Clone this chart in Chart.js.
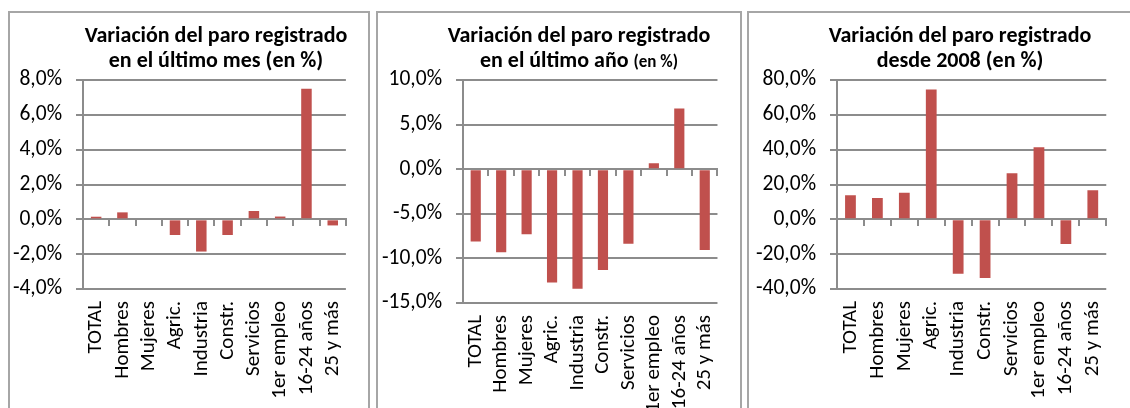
<!DOCTYPE html>
<html>
<head>
<meta charset="utf-8">
<script src="https://cdn.jsdelivr.net/npm/chart.js@4/dist/chart.umd.min.js"></script>
<style>
  body { margin: 0; width: 1130px; height: 408px; overflow: hidden; background: #fff; position: relative; font-family: Carlito, Lato, sans-serif; }
  .panel { position: absolute; top: 11px; height: 430px; box-sizing: border-box; border: 2px solid #a6a6a6; }
  .title { position: absolute; top: 22px; width: 340px; text-align: center; font-weight: bold; font-size: 22px; line-height: 25px; color: #000; z-index: 2; }
  .title small { font-size: 17px; }
  canvas { position: absolute; top: 0; z-index: 1; }
</style>
</head>
<body>
<div class="panel" style="left:8px;width:362px"></div>
<div class="panel" style="left:376px;width:366px"></div>
<div class="panel" style="left:747px;width:400px"></div>

<div class="title" style="left:46px">Variación del paro registrado<br>en el último mes (en %)</div>
<div class="title" style="left:409px">Variación del paro registrado<br>en el último año <small>(en %)</small></div>
<div class="title" style="left:790px">Variación del paro registrado<br>desde 2008 (en %)</div>

<div style="position:absolute;left:0;top:0;width:370px;height:408px"><canvas id="c1"></canvas></div>
<div style="position:absolute;left:376px;top:0;width:366px;height:408px"><canvas id="c2"></canvas></div>
<div style="position:absolute;left:747px;top:0;width:383px;height:408px"><canvas id="c3"></canvas></div>

<script>
const categories = ['TOTAL', 'Hombres', 'Mujeres', 'Agric.', 'Industria', 'Constr.', 'Servicios', '1er empleo', '16-24 años', '25 y más'];

// variación en %
const ultimoMes = [0.15, 0.4, 0.0, -0.9, -1.85, -0.9, 0.48, 0.16, 7.5, -0.35];
const ultimoAno = [-8.1, -9.3, -7.3, -12.7, -13.4, -11.3, -8.35, 0.67, 6.8, -9.05];
const desde2008 = [13.8, 12.3, 15.3, 74.6, -31.2, -33.7, 26.5, 41.4, -14.2, 16.7];

const FONT = 'Carlito, Lato, sans-serif';
const GRID = '#8c8c8c';
const BAR = '#c0504d';

function pct(v) {
  return v.toFixed(1).replace('.', ',') + '%';
}

function makeChart(id, values, yMin, yMax, step, yWidth, xHeight, padRight) {
  const ctx = document.getElementById(id).getContext('2d');
  return new Chart(ctx, {
    type: 'bar',
    data: {
      labels: categories,
      datasets: [{
        data: values,
        backgroundColor: BAR,
        borderWidth: 0,
        barPercentage: 0.4,
        categoryPercentage: 1
      }]
    },
    options: {
      responsive: true,
      maintainAspectRatio: false,
      animation: false,
      layout: { padding: { top: 80, right: padRight, left: 0, bottom: 0 } },
      plugins: { legend: { display: false }, tooltip: { enabled: false }, title: { display: false } },
      scales: {
        x: {
          grid: { display: false, drawTicks: false },
          border: { display: false },
          ticks: { color: '#000', font: { family: FONT, size: 21 }, maxRotation: 90, minRotation: 90, padding: 12, autoSkip: false },
          afterFit: s => { s.height = xHeight; }
        },
        x2: {
          axis: 'x',
          type: 'category',
          position: { y: 0 },
          offset: true,
          grid: { offset: true, drawOnChartArea: false, color: GRID, lineWidth: 2, tickLength: 6 },
          border: { display: true, color: GRID, width: 2 },
          ticks: { display: false }
        },
        y: {
          min: yMin,
          max: yMax,
          grid: { color: GRID, lineWidth: 2, tickLength: 7 },
          border: { display: true, color: GRID, width: 2 },
          ticks: { stepSize: step, color: '#000', font: { family: FONT, size: 21.5 }, padding: 14, callback: v => pct(v) },
          afterFit: s => { s.width = yWidth; }
        }
      }
    }
  });
}

makeChart('c1', ultimoMes, -4, 8, 2, 83, 119, 1);
makeChart('c2', ultimoAno, -15, 10, 5, 87, 105, 1);
makeChart('c3', desde2008, -40, 80, 20, 90, 119, 0);
</script>
</body>
</html>
